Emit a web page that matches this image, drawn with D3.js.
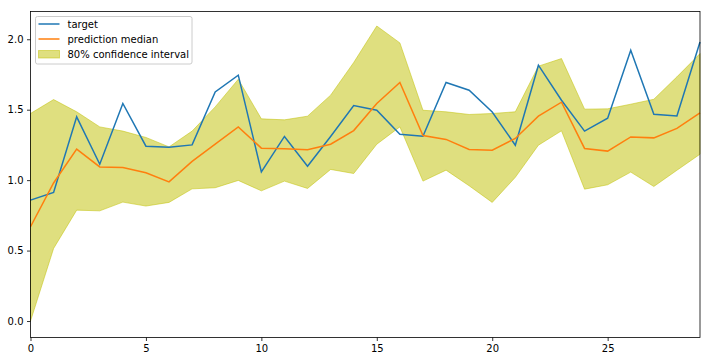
<!DOCTYPE html>
<html><head><meta charset="utf-8">
<script src="https://cdn.jsdelivr.net/npm/d3@7"></script>
<style>body{margin:0;background:#fff}svg{display:block;font-family:"DejaVu Sans",sans-serif}</style>
</head><body><svg id="c" width="710" height="361"></svg>
<script>
const xs = d3.range(0, 30);
const target = [0.858,0.913,1.449,1.113,1.544,1.241,1.234,1.25,1.626,1.745,1.059,1.31,1.099,1.31,1.53,1.496,1.326,1.312,1.693,1.638,1.484,1.248,1.816,1.567,1.348,1.44,1.922,1.468,1.456,1.98];
const median = [0.669,0.98,1.22,1.094,1.09,1.052,0.988,1.133,1.255,1.378,1.227,1.222,1.215,1.255,1.352,1.544,1.693,1.317,1.289,1.218,1.213,1.296,1.454,1.553,1.225,1.206,1.307,1.3,1.367,1.477];
const upper = [1.473,1.572,1.485,1.378,1.348,1.303,1.236,1.348,1.52,1.716,1.435,1.428,1.454,1.603,1.835,2.094,1.974,1.496,1.485,1.466,1.473,1.485,1.809,1.863,1.504,1.506,1.539,1.574,1.733,1.898];
const lower = [0.0,0.515,0.787,0.782,0.844,0.816,0.842,0.938,0.946,0.998,0.924,0.993,0.941,1.076,1.047,1.255,1.378,0.993,1.071,0.96,0.842,1.02,1.248,1.35,0.936,0.967,1.057,0.955,1.07,1.184];
const xTicks = [0,5,10,15,20,25];
const yTicks = [0.0,0.5,1.0,1.5,2.0];
const legendLabels = ["target","prediction median","80% confidence interval"];

const svg = d3.select("#c");
const L = 30.5, R = 700, T = 11.5, B = 337.5;
const x = d3.scaleLinear().domain([0, 29]).range([L, R]);
const y = d3.scaleLinear().domain([-0.117, 2.197]).range([B, T]);

const band = xs.map((d,i)=>({x:d, lo:lower[i], hi:upper[i]}));
svg.append("path").datum(band)
  .attr("d", d3.area().x(d=>x(d.x)).y0(d=>y(d.lo)).y1(d=>y(d.hi)))
  .attr("fill", "rgb(191,191,0)").attr("fill-opacity", 0.5)
  .attr("stroke", "rgb(191,191,0)").attr("stroke-opacity", 0.5).attr("stroke-width", 1);

const line = d3.line().x((d,i)=>x(xs[i])).y(d=>y(d));
svg.append("path").datum(target).attr("d", line).attr("fill","none").attr("stroke","#1f77b4").attr("stroke-width",1.5);
svg.append("path").datum(median).attr("d", line).attr("fill","none").attr("stroke","#ff7f0e").attr("stroke-width",1.5);

// axes
const xa = svg.append("g").attr("transform", `translate(0,${B})`)
  .call(d3.axisBottom(x).tickValues(xTicks).tickFormat(d3.format("d")).tickSize(3.5).tickPadding(3.5));
const ya = svg.append("g").attr("transform", `translate(${L},0)`)
  .call(d3.axisLeft(y).tickValues(yTicks).tickFormat(d3.format(".1f")).tickSize(3.5).tickPadding(3.5));
[xa, ya].forEach(g => {
  g.select(".domain").remove();
  g.selectAll("line").attr("stroke","#000").attr("stroke-width",0.8);
  g.selectAll("text").attr("fill","#000").style("font-size","10px").style("font-family","DejaVu Sans");
});
svg.append("rect").attr("x", L).attr("y", T).attr("width", R-L).attr("height", B-T)
  .attr("fill","none").attr("stroke","#000").attr("stroke-width",0.8);

// legend
const lg = svg.append("g");
lg.append("rect").attr("x",35.5).attr("y",16.5).attr("width",156.5).attr("height",47.5).attr("rx",2)
  .attr("fill","#fff").attr("fill-opacity",0.8).attr("stroke","#ccc").attr("stroke-width",1);
const rowsY = [24, 39, 54];
lg.append("line").attr("x1",38.5).attr("x2",59.5).attr("y1",rowsY[0]).attr("y2",rowsY[0]).attr("stroke","#1f77b4").attr("stroke-width",1.5);
lg.append("line").attr("x1",38.5).attr("x2",59.5).attr("y1",rowsY[1]).attr("y2",rowsY[1]).attr("stroke","#ff7f0e").attr("stroke-width",1.5);
lg.append("rect").attr("x",38.5).attr("y",50.5).attr("width",21).attr("height",7.5)
  .attr("fill","rgb(191,191,0)").attr("fill-opacity",0.5).attr("stroke","rgb(191,191,0)").attr("stroke-opacity",0.5);
legendLabels.forEach((t,i)=>{
  lg.append("text").attr("x",67.5).attr("y",rowsY[i]).attr("dy","0.35em")
    .style("font-size","10px").attr("fill","#000").text(t);
});
</script></body></html>
